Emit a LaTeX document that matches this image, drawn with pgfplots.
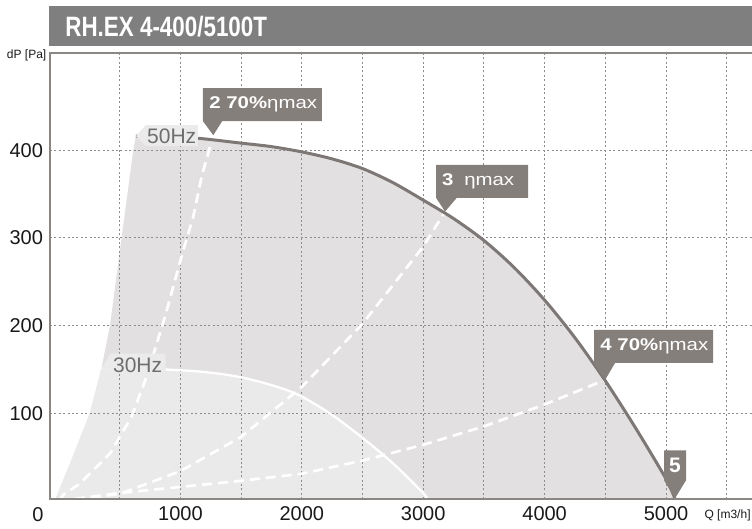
\documentclass[border=0pt]{standalone}
\usepackage{fontspec}
\setmainfont{Liberation Sans}
\usepackage{pgfplots}
\pgfplotsset{compat=1.18}
\definecolor{cg}{HTML}{857F7B}
\definecolor{line50}{HTML}{7D7876}
\definecolor{fillA}{HTML}{E2E0E1}
\definecolor{fillB}{HTML}{EAEAEA}
\definecolor{lab}{HTML}{6E6E6E}
\definecolor{labbg}{HTML}{EBEBEB}
\definecolor{frame}{HTML}{8A8684}
\definecolor{titlebg}{HTML}{7F7F7F}
\definecolor{gridc}{HTML}{8C8C8C}
\newcommand{\cv}[2]{++(canvas cs:x=#1,y=#2)}
\begin{document}
\begin{tikzpicture}
\begin{axis}[
  at={(25pt,14.9pt)}, anchor=south west,
  scale only axis, width=351pt, height=223.2pt,
  xmin=-74, xmax=5708, ymin=2, ymax=511,
  set layers, clip mode=individual,
  axis x line=bottom, axis y line=left,
  axis line style={draw=none},
  xtick={1000,2000,3000,4000,5000},
  xticklabels={1000,2000,3000,4000,5000},
  minor xtick={500,1500,2500,3500,4500,5500},
  ytick={100,200,300,400},
  yticklabels={100,200,300,400},
  scaled x ticks=false, scaled y ticks=false,
  major tick length=0pt, minor tick length=0pt,
  tick label style={font=\fontsize{10}{12}\selectfont, text=black!90},
  grid=both,
  major grid style={gridc, line width=0.5pt, dash pattern=on 1pt off 1.2pt},
  minor grid style={gridc, line width=0.5pt, dash pattern=on 1pt off 1.2pt},
]
% 50 Hz operating envelope
\addplot[fill=fillA, draw=none, on layer=axis background] coordinates {
 (-35,0) (104,47) (255,100) (351,152) (420,200) (516,300) (612,400) (634,416)
 (900,415) (1148,413.5) (1500,408) (1750,404) (2000,398) (2250,390) (2500,379)
 (2750,363) (3000,343) (3250,322) (3500,297) (3750,266) (4000,229) (4250,186)
 (4500,137) (4750,83) (5000,25) (5080,0)};
% 30 Hz envelope
\addplot[fill=fillB, draw=none, on layer=axis background] coordinates {
 (-35,0) (104,47) (255,100) (352,152)
 (600,151) (860,150) (1200,147) (1500,141) (1800,130) (2000,119) (2250,98)
 (2500,72) (2750,43) (3000,9) (3040,0)};
% system curves (white dashed)
\addplot[white, line width=1.35pt, dash pattern=on 5pt off 3pt] coordinates {
 (0,0) (36,7) (173,20) (420,54) (598,96) (722,142) (873,210) (1024,286) (1106,324) (1175,370) (1271,417)};
\addplot[white, line width=1.35pt, dash pattern=on 5pt off 3pt] coordinates {
 (0,0) (500,8) (1000,34) (1500,73) (2000,130) (2500,202) (3000,290) (3180,330)};
\addplot[white, line width=1.35pt, dash pattern=on 5pt off 3pt] coordinates {
 (0,0) (500,9) (1000,16) (1500,23) (2000,31) (2500,46) (3000,64) (3500,85) (4000,110) (4498,138)};
% 30 Hz curve
\addplot[white, line width=1.15pt, smooth] coordinates {
 (352,152) (600,151) (860,150) (1200,147) (1500,141) (1800,130) (2000,119) (2250,98)
 (2500,72) (2750,43) (3000,9) (3040,0)};
% 50 Hz curve
\addplot[line50, line width=1.5pt, smooth] coordinates {
 (634,416) (900,415) (1148,413.5) (1500,408) (1750,404) (2000,398) (2250,390) (2500,379)
 (2750,363) (3000,343) (3250,322) (3500,297) (3750,266) (4000,229) (4250,186)
 (4500,137) (4750,83) (5000,25) (5080,0)};
% frame
\draw[frame, line width=1.2pt, line join=miter] (rel axis cs:1,1) -- (rel axis cs:0,1) -- (rel axis cs:0,0) -- (rel axis cs:1,0);
% frequency labels
\fill[labbg] (axis cs:634,416) -- \cv{5pt}{5.5pt} -- \cv{26pt}{0pt} -- \cv{0pt}{-10.5pt} -- \cv{-26pt}{0pt} -- cycle;
\node[anchor=west, inner sep=0, text=lab, font=\fontsize{10.5}{12}\selectfont] at ([shift={(5.4pt,-0.3pt)}]axis cs:634,416) {50Hz};
\fill[labbg] (axis cs:352,152) -- \cv{4.5pt}{7pt} -- \cv{27.5pt}{0pt} -- \cv{0pt}{-10pt} -- \cv{-27.5pt}{0pt} -- cycle;
\node[anchor=west, inner sep=0, text=lab, font=\fontsize{10.5}{12}\selectfont] at ([shift={(5.5pt,1.2pt)}]axis cs:352,152) {30Hz};
% callouts
\fill[cg] (axis cs:1271,417) -- \cv{-5.15pt}{7pt} -- \cv{0pt}{16.5pt} -- \cv{59.5pt}{0pt} -- \cv{0pt}{-16.5pt} -- \cv{-49.95pt}{0pt} -- cycle;
\node[anchor=west, inner sep=0, text=white, font=\fontsize{8.5}{10}\selectfont] at ([shift={(-2.15pt,15.25pt)}]axis cs:1271,417) {\scalebox{1.2}[1]{\textbf{2 70\%}ηmax}};
\fill[cg] (axis cs:3180,330) -- \cv{-4.5pt}{6.85pt} -- \cv{0pt}{16.5pt} -- \cv{46pt}{0pt} -- \cv{0pt}{-16.5pt} -- \cv{-35.65pt}{0pt} -- cycle;
\node[anchor=west, inner sep=0, text=white, font=\fontsize{8.5}{10}\selectfont] at ([shift={(-1.65pt,15.1pt)}]axis cs:3180,330) {\scalebox{1.2}[1]{\textbf{3}\hspace{4.5pt}ηmax}};
\fill[cg] (axis cs:4498,138) -- \cv{-5.5pt}{8.5pt} -- \cv{0pt}{16.5pt} -- \cv{59.5pt}{0pt} -- \cv{0pt}{-16.5pt} -- \cv{-49pt}{0pt} -- cycle;
\node[anchor=west, inner sep=0, text=white, font=\fontsize{8.5}{10}\selectfont] at ([shift={(-2.5pt,16.75pt)}]axis cs:4498,138) {\scalebox{1.2}[1]{\textbf{4 70\%}ηmax}};
\fill[cg] (axis cs:5074,3) -- \cv{-5.5pt}{9pt} -- \cv{0pt}{15pt} -- \cv{11pt}{0pt} -- \cv{0pt}{-15pt} -- cycle;
\node[anchor=center, inner sep=0, text=white, font=\fontsize{10.5}{12}\selectfont\bfseries] at ([shift={(0pt,16.5pt)}]axis cs:5074,3) {5};
% axis texts
\node[anchor=center, inner sep=0, font=\fontsize{10}{12}\selectfont, text=black!90] at (axis cs:-173,-15.4) {0};
\node[anchor=north east, inner sep=0, font=\fontsize{6}{7}\selectfont, text=black!90] at ([shift={(-1.65pt,1.5pt)}]rel axis cs:0,1) {dP [Pa]};
\node[anchor=east, inner sep=0, font=\fontsize{6}{7}\selectfont, text=black!90] at ([shift={(-0.5pt,-7.9pt)}]rel axis cs:1,0) {Q [m3/h]};
\end{axis}
% title bar
\fill[titlebg] (24.5pt,241.5pt) rectangle (376pt,261.5pt);
\node[anchor=base west, inner sep=0, text=white, font=\fontsize{14}{16}\selectfont\bfseries] at (32.5pt,246pt) {\scalebox{0.8}[1]{RH.EX 4-400/5100T}};
\pgfresetboundingbox
\useasboundingbox (0,0) rectangle (376pt,264.5pt);
\end{tikzpicture}
\end{document}
